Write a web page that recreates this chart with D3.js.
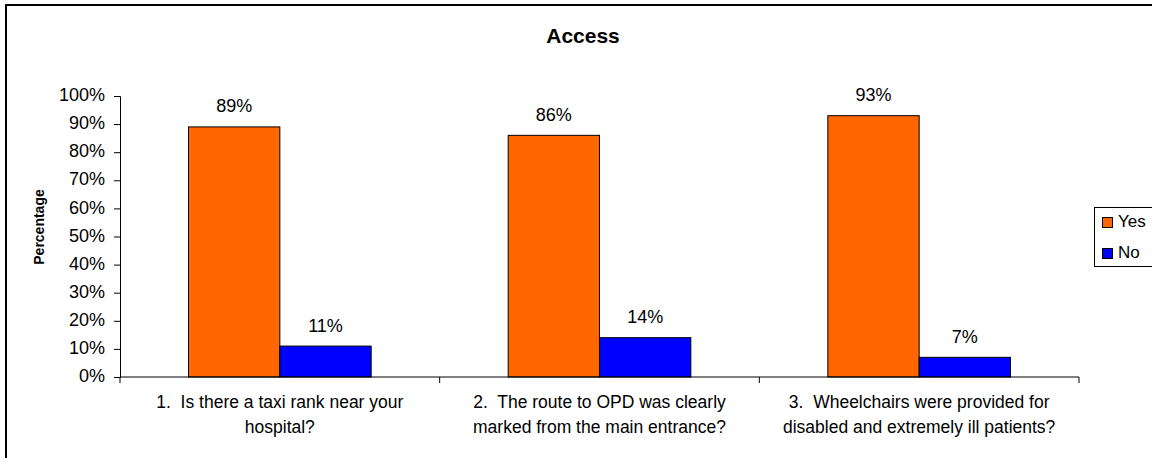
<!DOCTYPE html>
<html>
<head>
<meta charset="utf-8">
<script src="https://cdn.jsdelivr.net/npm/d3@7"></script>
<style>
  html, body { margin: 0; padding: 0; background: #fff; }
  svg { display: block; font-family: Arial, "Liberation Sans", sans-serif; }
</style>
</head>
<body>
<svg id="chart" width="1152" height="458"></svg>
<script>
const categories = [
  ["1.\u00a0 Is there a taxi rank near your", "hospital?"],
  ["2.\u00a0 The route to OPD was clearly", "marked from the main entrance?"],
  ["3.\u00a0 Wheelchairs were provided for", "disabled and extremely ill patients?"]
];
const seriesNames = ["Yes", "No"];
const yesValues = [89, 86, 93];
const noValues = [11, 14, 7];
const yTicks = [0, 10, 20, 30, 40, 50, 60, 70, 80, 90, 100];
const colors = ["#FF6600", "#0000FF"];

const svg = d3.select("#chart");
const plot = { left: 120, right: 1079, top: 96, bottom: 377 };

// outer frame
svg.append("rect").attr("x", 6).attr("y", 5).attr("width", 1160).attr("height", 470)
  .attr("fill", "#fff").attr("stroke", "#000").attr("stroke-width", 2);

const idx = d3.range(categories.length);
const x = d3.scaleBand().domain(idx).range([plot.left, plot.right]).paddingInner(0).paddingOuter(0);
const xs = d3.scaleBand().domain(seriesNames).range([0, x.bandwidth()]).paddingInner(0).paddingOuter(0.75);
const y = d3.scaleLinear().domain([0, 100]).range([plot.bottom, plot.top]);

const data = idx.map(i => ({ i, vals: [yesValues[i], noValues[i]] }));

// bars
const g = svg.append("g");
data.forEach(d => {
  d.vals.forEach((v, s) => {
    const bx = x(d.i) + xs(seriesNames[s]);
    g.append("rect")
      .attr("x", bx).attr("y", y(v))
      .attr("width", xs.bandwidth()).attr("height", y(0) - y(v))
      .attr("fill", colors[s]).attr("stroke", "#000").attr("stroke-width", 1);
    g.append("text")
      .attr("x", bx + xs.bandwidth() / 2).attr("y", y(v) - 14.5)
      .attr("text-anchor", "middle").attr("font-size", 18).attr("fill", "#000")
      .text(v + "%");
  });
});

// y axis
const yAxis = d3.axisLeft(y).tickValues(yTicks).tickFormat(d => d + "%").tickSize(6).tickPadding(9);
const ya = svg.append("g").attr("transform", `translate(${plot.left},0)`).call(yAxis);
ya.select(".domain").attr("stroke", "#000");
ya.selectAll(".tick line").attr("stroke", "#000");
ya.selectAll(".tick text").attr("font-size", 18).attr("fill", "#000")
  .attr("font-family", "Arial, 'Liberation Sans', sans-serif").attr("dy", "0.26em");

// x axis
const xa = svg.append("g").attr("transform", `translate(0,${plot.bottom})`);
xa.append("line").attr("x1", plot.left).attr("x2", plot.right).attr("y1", 0).attr("y2", 0).attr("stroke", "#000");
const boundaries = idx.map(i => x(i)).concat([x(idx[idx.length - 1]) + x.bandwidth()]);
xa.selectAll("line.tk").data(boundaries).enter().append("line").attr("class", "tk")
  .attr("x1", d => d).attr("x2", d => d).attr("y1", 0).attr("y2", 6).attr("stroke", "#000");
idx.forEach(i => {
  const t = xa.append("text").attr("text-anchor", "middle").attr("font-size", 17.5).attr("fill", "#000");
  categories[i].forEach((line, k) => {
    t.append("tspan").attr("x", x(i) + x.bandwidth() / 2).attr("y", 31 + k * 25).text(line);
  });
});

// title
svg.append("text").attr("x", 583).attr("y", 43).attr("text-anchor", "middle")
  .attr("font-size", 21).attr("font-weight", "bold").text("Access");

// y title
svg.append("text").attr("transform", "translate(44,227) rotate(-90)").attr("text-anchor", "middle")
  .attr("font-size", 14).attr("font-weight", "bold").text("Percentage");

// legend
const lg = svg.append("g");
lg.append("rect").attr("x", 1094.5).attr("y", 207.5).attr("width", 80).attr("height", 59)
  .attr("fill", "#fff").attr("stroke", "#000").attr("stroke-width", 1);
seriesNames.forEach((n, s) => {
  const yy = 217.5 + s * 31;
  lg.append("rect").attr("x", 1102.5).attr("y", yy).attr("width", 10).attr("height", 10)
    .attr("fill", colors[s]).attr("stroke", "#000").attr("stroke-width", 1);
  lg.append("text").attr("x", 1118).attr("y", yy + 9.5).attr("font-size", 17).text(n);
});
</script>
</body>
</html>
